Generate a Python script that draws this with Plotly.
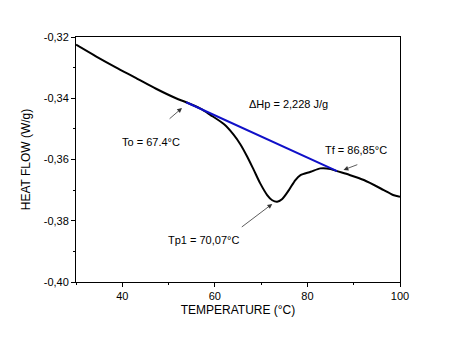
import plotly.graph_objects as go

# DSC curve (temperature °C, heat flow W/g)
temperature = [30, 34.3, 38.6, 43.0, 47.3, 51.6, 53.8, 56.9, 59.0, 62.0, 64.0, 65.5, 67.0,
               68.4, 69.8, 71.3, 72.4, 73.45, 74.5, 76.0, 77.4, 78.5, 80.7, 82.8, 85.0,
               86.4, 89.0, 92.2, 96.5, 98.5, 100]
heat_flow = [-0.3225, -0.3263, -0.3299, -0.3334, -0.3369, -0.3400, -0.3413, -0.3434, -0.3454,
             -0.3485, -0.3518, -0.3550, -0.3591, -0.3634, -0.3678, -0.3716, -0.3733, -0.3738,
             -0.3730, -0.3700, -0.3667, -0.3651, -0.3640, -0.3629, -0.3631, -0.3638, -0.3650,
             -0.3667, -0.3700, -0.3716, -0.3722]

# baseline (blue)
base_x = [53.8, 86.4]
base_y = [-0.3413, -0.3638]

y_ticks = [-0.40, -0.38, -0.36, -0.34, -0.32]
y_ticktext = ["-0,40", "-0,38", "-0,36", "-0,34", "-0,32"]
x_ticks = [40, 60, 80, 100]

# labels: text, x, y ; arrows: tail x,y -> head x,y
labels = [
    ("To = 67.4°C", 46.2, -0.3543),
    ("\u0394Hp = 2,228 J/g", 75.9, -0.3420),
    ("Tf = 86,85°C", 90.6, -0.3569),
    ("Tp1 = 70,07°C", 57.5, -0.3863),
]
arrows = [
    (49.9, -0.3471, 52.9, -0.3432),
    (91.1, -0.3615, 87.8, -0.3634),
    (65.5, -0.3824, 72.4, -0.3745),
]

FONT = "Liberation Sans, Arial, sans-serif"

fig = go.Figure()
fig.add_trace(go.Scatter(x=temperature, y=heat_flow, mode="lines",
                         line=dict(color="black", width=2, shape="spline", smoothing=0.8),
                         hoverinfo="skip"))
fig.add_trace(go.Scatter(x=base_x, y=base_y, mode="lines",
                         line=dict(color="#1010c8", width=2), hoverinfo="skip"))

for text, x, y in labels:
    fig.add_annotation(x=x, y=y, text=text, showarrow=False,
                       font=dict(family=FONT, size=11, color="black"))
for tx, ty, hx, hy in arrows:
    fig.add_annotation(x=hx, y=hy, ax=tx, ay=ty, xref="x", yref="y", axref="x", ayref="y",
                       text="", showarrow=True, arrowhead=2, arrowsize=1.2, arrowwidth=0.8,
                       arrowcolor="#333333")

fig.update_layout(
    width=474, height=340,
    margin=dict(l=76, r=74, t=37, b=58),
    paper_bgcolor="white", plot_bgcolor="white",
    showlegend=False,
    font=dict(family=FONT, size=11, color="black"),
)
fig.update_xaxes(
    range=[30, 100], tickvals=x_ticks, ticks="outside", ticklen=4, tickwidth=1,
    tickcolor="black", showline=True, linecolor="black", linewidth=1, mirror=True,
    showgrid=False, zeroline=False,
    minor=dict(ticks="outside", dtick=10, tick0=0, ticklen=2, tickcolor="black"),
    tickfont=dict(size=11),
    title=dict(text="TEMPERATURE (°C)", font=dict(size=12), standoff=4),
)
fig.update_yaxes(
    range=[-0.40, -0.32], tickvals=y_ticks, ticktext=y_ticktext, ticks="outside", ticklen=4,
    tickwidth=1, tickcolor="black", showline=True, linecolor="black", linewidth=1, mirror=True,
    showgrid=False, zeroline=False,
    minor=dict(ticks="outside", dtick=0.01, tick0=0, ticklen=2, tickcolor="black"),
    tickfont=dict(size=11),
    title=dict(text="HEAT FLOW (W/g)", font=dict(size=12), standoff=10),
)

fig.write_html("out.html")
